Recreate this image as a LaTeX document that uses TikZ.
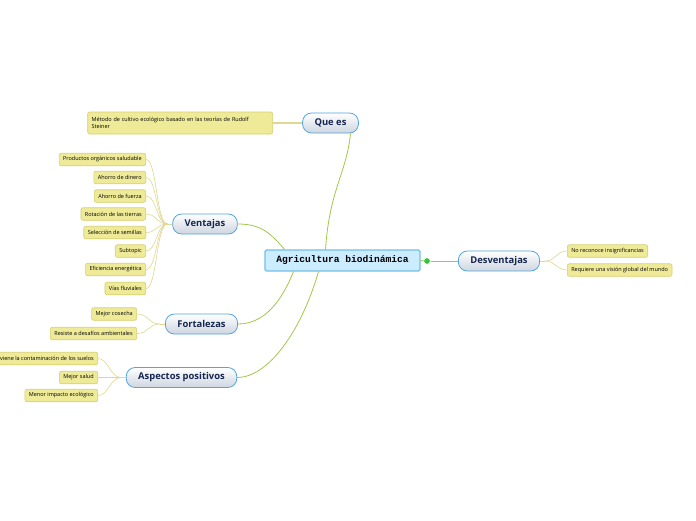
\documentclass[tikz,border=0pt]{standalone}
\usepackage{fontspec}
\setmainfont{Open Sans}
\setmonofont{Liberation Mono}
\usepackage{tikz}
\usetikzlibrary{
  arrows.meta,
  positioning
}
\definecolor{BranchGreen}{RGB}{162,200,72}
\definecolor{LeafFill}{RGB}{238,234,152}
\definecolor{LeafBorder}{RGB}{214,208,112}
\definecolor{LeafLine}{RGB}{222,216,146}
\definecolor{TopicBlue}{RGB}{84,164,222}
\definecolor{TopicText}{RGB}{22,38,78}
\definecolor{TopicShade}{RGB}{206,214,224}
\definecolor{CentralFill}{RGB}{204,236,255}
\definecolor{CentralBorder}{RGB}{112,192,236}
\definecolor{KnobGreen}{RGB}{52,196,60}
\tikzset{
  centralnode/.style={draw=CentralBorder,fill=CentralFill,line width=1.2pt,rounded corners=1.5pt,minimum height=21pt,minimum width=155pt,align=center,font=\ttfamily\bfseries\fontsize{9.6}{11}\selectfont},
  topicnode/.style={draw=TopicBlue,top color=white,bottom color=TopicShade,line width=0.8pt,rounded corners=9pt,minimum height=20pt,inner xsep=12pt,text=TopicText,font=\bfseries\fontsize{9.4}{11}\selectfont},
  leafnode/.style={draw=LeafBorder,fill=LeafFill,line width=0.6pt,rounded corners=2pt,minimum height=12.5pt,inner xsep=4pt,inner ysep=1pt,font=\fontsize{5.5}{6.6}\selectfont,align=left},
  branch/.style={draw=BranchGreen,line width=0.8pt},
  leafline/.style={draw=LeafLine,line width=0.6pt},
  knob/.style={circle,draw=white,fill=KnobGreen,line width=0.5pt,inner sep=0pt,minimum size=6.5pt}
}
\begin{document}
\begin{tikzpicture}[x=1pt,y=-1pt]
\useasboundingbox[fill=white] (0,0) rectangle (696,520);
% central topic
\node[centralnode] (central) at (342.5,260.5) {Agricultura biodinámica};
\node[knob] (knob) at (427,261) {};
% main topics
\node[topicnode] (quees) at (330.5,123) {Que es};
\node[topicnode] (ventajas) at (205,224) {Ventajas};
\node[topicnode] (fortalezas) at (201.5,324) {Fortalezas};
\node[topicnode] (aspectos) at (181.5,377.5) {Aspectos positivos};
\node[topicnode] (desventajas) at (499,261) {Desventajas};
% leaves
\node[leafnode, anchor=east, minimum height=22pt, text width=177pt] (q1) at (273,123) {Método de cultivo ecológico basado en las teorías de Rudolf\\Steiner};
\node[leafnode, anchor=east] (v1) at (146,159.5) {Productos orgánicos saludable};
\node[leafnode, anchor=east] (v2) at (146,177.5) {Ahorro de dinero};
\node[leafnode, anchor=east] (v3) at (146,196) {Ahorro de fuerza};
\node[leafnode, anchor=east] (v4) at (146,214) {Rotación de las tierras};
\node[leafnode, anchor=east] (v5) at (146,232.5) {Selección de semillas};
\node[leafnode, anchor=east] (v6) at (146,251) {Subtopic};
\node[leafnode, anchor=east] (v7) at (146,269.5) {Eficiencia energética};
\node[leafnode, anchor=east] (v8) at (146,288.5) {Vías fluviales};
\node[leafnode, anchor=east] (f1) at (137,314) {Mejor cosecha};
\node[leafnode, anchor=east] (f2) at (137,333.5) {Resiste a desafíos ambientales};
\node[leafnode, anchor=east] (a1) at (98,358.5) {Previene la contaminación de los suelos};
\node[leafnode, anchor=east] (a2) at (98,377.5) {Mejor salud};
\node[leafnode, anchor=east] (a3) at (98,395.5) {Menor impacto ecológico};
\node[leafnode, anchor=west] (d1) at (567,251) {No reconoce insignificancias};
\node[leafnode, anchor=west] (d2) at (567,270) {Requiere una visión global del mundo};
% branches from the central topic
\draw[branch] ([xshift=-17pt]central.north) .. controls +(4,-60) and +(-4,40) .. ([xshift=20pt]quees.south);
\draw[branch] ([xshift=-58pt]central.north) .. controls +(-14,-16) and +(24,0) .. (ventajas.east);
\draw[branch] ([xshift=-49pt]central.south) .. controls +(-12,30) and +(26,0) .. (fortalezas.east);
\draw[branch] ([xshift=-24pt]central.south) .. controls +(-18,62) and +(30,0) .. (aspectos.east);
\draw[branch] (central.east) -- (knob);
\draw[branch] (knob) -- (desventajas.west);
% leaf connectors
\draw[leafline, line width=1.4pt] (quees.west) -- (q1.east);
\coordinate[left=5pt of ventajas.west] (vj);
\draw[leafline] (ventajas.west) -- (vj);
\foreach \n in {v1,v2,v3,v4,v5,v6,v7,v8}
  \draw[leafline] (vj) .. controls +(-11,0) and +(11,0) .. (\n.east);
\coordinate[left=5pt of fortalezas.west] (ft);
\draw[leafline] (fortalezas.west) -- (ft);
\foreach \n in {f1,f2}
  \draw[leafline] (ft) .. controls +(-12,0) and +(12,0) .. (\n.east);
\coordinate[left=5pt of aspectos.west] (ap);
\draw[leafline] (aspectos.west) -- (ap);
\foreach \n in {a1,a2,a3}
  \draw[leafline] (ap) .. controls +(-10,0) and +(10,0) .. (\n.east);
\coordinate[right=5pt of desventajas.east] (dv);
\draw[leafline] (desventajas.east) -- (dv);
\foreach \n in {d1,d2}
  \draw[leafline] (dv) .. controls +(11,0) and +(-11,0) .. (\n.west);
\end{tikzpicture}
\end{document}
